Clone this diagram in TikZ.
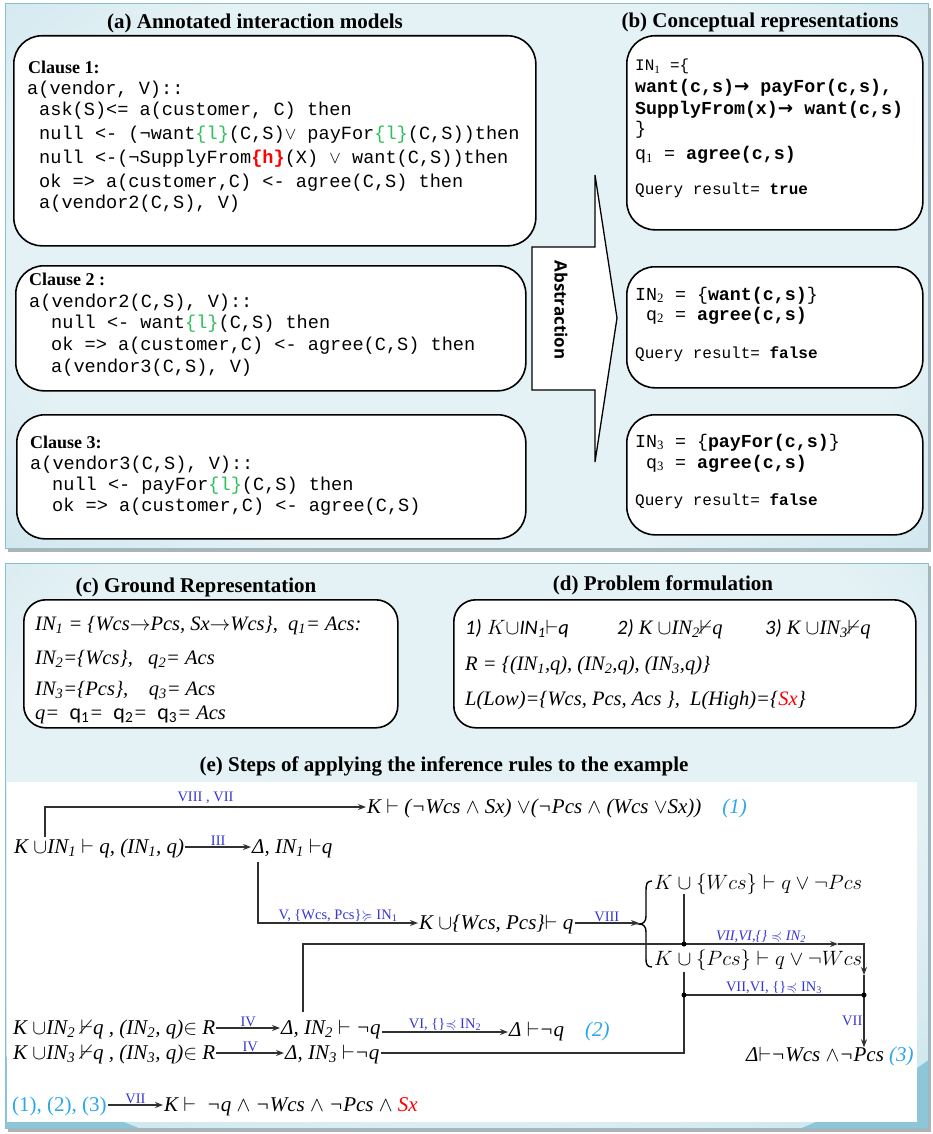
\documentclass[tikz,border=0pt]{standalone}
\usepackage{fontspec}
\usepackage{amssymb}
\setmainfont{Liberation Serif}
\setsansfont{Open Sans}
\setmonofont{Liberation Mono}
\newfontfamily\carl{Carlito}
\newfontfamily\djv{DejaVu Sans}
\usetikzlibrary{arrows.meta,calc}
\definecolor{grn}{HTML}{2EC05A}
\definecolor{cblue}{HTML}{2AA8E8}
\definecolor{lblue}{HTML}{3636D6}
\definecolor{pl}{HTML}{E4F1F5}
\definecolor{pb}{HTML}{8CC6D7}
\definecolor{pedge}{HTML}{86C0D2}
\definecolor{lnc}{HTML}{303030}
\pgfdeclareradialshading{panshade}{\pgfpoint{0bp}{0bp}}{color(0bp)=(pl); color(18bp)=(pl); color(50bp)=(pb)}
\newcommand{\gn}[1]{\textcolor{grn}{#1}}
\newcommand{\lsb}[1]{\textsubscript{#1}}
\newcommand{\msb}[1]{\textsubscript{\rmfamily\upshape #1}}
\newcommand{\spc}{\phantom{x}}
\tikzset{
  ttl/.style={font=\bfseries\fontsize{21}{24}\selectfont, inner sep=0pt},
  rbox/.style={draw=black, line width=1.6pt, fill=white, rounded corners=28pt, anchor=north west, inner sep=0pt},
  cl/.style={anchor=base west, inner sep=0pt, font=\bfseries\fontsize{18}{20}\selectfont},
  cd/.style={anchor=base west, inner sep=0pt, font=\ttfamily\fontsize{18.6}{20}\selectfont},
  bd/.style={anchor=base west, inner sep=0pt, font=\ttfamily\fontsize{18.3}{20}\selectfont},
  cq/.style={anchor=base west, inner sep=0pt, font=\ttfamily\fontsize{16}{20}\selectfont},
  fm/.style={anchor=base west, inner sep=0pt, font=\itshape\fontsize{20.5}{24}\selectfont},
  ef/.style={anchor=west, inner sep=1pt, text height=13pt, text depth=0pt, font=\itshape\fontsize{21}{24}\selectfont},
  lb/.style={text=lblue, inner sep=1pt, font=\fontsize{14.5}{16}\selectfont},
  lbi/.style={text=lblue, inner sep=1pt, font=\itshape\fontsize{14.5}{16}\selectfont},
  cn/.style={draw=lnc, line width=1.3pt},
  arr/.style={cn, -{Stealth[length=8pt,width=6pt]}},
  jd/.style={circle, fill=black, inner sep=0pt, minimum size=5pt},
}
\begin{document}
\begin{tikzpicture}[x=1pt,y=-1pt]
\useasboundingbox (0,0) rectangle (932,1134);
\fill[white] (0,0) rectangle (932,1134);
% ---------- top panel
\fill[black!30] (8,8) rectangle (931,552);
\fill[pb] (5,4) rectangle (928,548);
\begin{scope}
\clip (5,4) rectangle (928,548);
\shade[shading=panshade] (470,260) ellipse (640 and 420);
\end{scope}
\draw[pedge, line width=1pt] (5,4) rectangle (928,548);
% ---------- bottom panel
\fill[black!30] (8,566) rectangle (931,1132);
\fill[pb] (5,563) rectangle (928,1128);
\begin{scope}
\clip (5,563) rectangle (928,1128);
\shade[shading=panshade] (470,760) ellipse (640 and 430);
\end{scope}
\draw[pedge, line width=1pt] (5,563) rectangle (928,1128);
\fill[white] (7,782) rectangle (917,1122);

% ---------- titles
\node[ttl] (ta) at (255,23) {(a) Annotated interaction models};
\node[ttl] (tb) at (760,22) {(b) Conceptual representations};
\node[ttl] (tc) at (196,587) {(c) Ground Representation};
\node[ttl] (td) at (663,585) {(d) Problem formulation};
\node[ttl] (te) at (444,766) {(e) Steps of applying the inference rules to the example};

% ---------- clause boxes
\node[rbox, minimum width=522pt, minimum height=210pt] (cb1) at (13,35) {};
\node[rbox, minimum width=510pt, minimum height=125pt] (cb2) at (15,265) {};
\node[rbox, minimum width=509pt, minimum height=124pt] (cb3) at (16,414) {};

\node[cl] (c1t) at (28,74) {Clause 1:};
\node[cd] (c1a) at (27,95) {a(vendor, V)::};
\node[cd] (c1b) at (39,116) {ask(S)<= a(customer, C) then};
\node[cd] (c1c) at (39,140) {null <- (¬want\gn{\{l\}}(C,S)$\vee$ payFor\gn{\{l\}}(C,S))then};
\node[cd] (c1d) at (39,164) {null <-(¬SupplyFrom\textcolor{red}{\textbf{\{h\}}}(X) $\vee$ want(C,S))then};
\node[cd] (c1e) at (39,187) {ok => a(customer,C) <- agree(C,S) then};
\node[cd] (c1f) at (39,208) {a(vendor2(C,S), V)};

\node[cl] (c2t) at (29,285) {Clause 2 :};
\node[cd] (c2a) at (29,307) {a(vendor2(C,S), V)::};
\node[cd] (c2b) at (51,328) {null <- want\gn{\{l\}}(C,S) then};
\node[cd] (c2c) at (51,350) {ok => a(customer,C) <- agree(C,S) then};
\node[cd] (c2d) at (51,372) {a(vendor3(C,S), V)};

\node[cl] (c3t) at (30,448) {Clause 3:};
\node[cd] (c3a) at (30,469) {a(vendor3(C,S), V)::};
\node[cd] (c3b) at (52,490) {null <- payFor\gn{\{l\}}(C,S) then};
\node[cd] (c3c) at (52,511) {ok => a(customer,C) <- agree(C,S)};

% ---------- abstraction arrow
\draw[line width=1.3pt, fill=white] (532,247) -- (595,247) -- (595,175) -- (617,318) -- (595,462) -- (595,390) -- (532,390) -- cycle;
\node[rotate=-90, font=\sffamily\bfseries\fontsize{17}{20}\selectfont] (abs) at (561,310) {Abstraction};

% ---------- conceptual boxes
\node[rbox, minimum width=296pt, minimum height=194pt] (bb1) at (626,35) {};
\node[rbox, minimum width=296pt, minimum height=121pt] (bb2) at (626,266) {};
\node[rbox, minimum width=296pt, minimum height=120pt] (bb3) at (626,414) {};

\node[cq] (b1a) at (635,71) {IN\msb{1} =\{};
\node[bd] (b1b) at (635,93) {\textbf{want(c,s)}{\djv\bfseries →} \textbf{payFor(c,s),}};
\node[bd] (b1c) at (635,115) {\textbf{SupplyFrom(x)}{\djv\bfseries →} \textbf{want(c,s)}};
\node[bd] (b1d) at (635,135) {\}};
\node[bd] (b1e) at (635,160) {q\msb{1} = \textbf{agree(c,s)}};
\node[cq] (b1f) at (635,194) {Query result= \textbf{true}};

\node[bd] (b2a) at (635,300) {IN\msb{2} = \{\textbf{want(c,s)}\}};
\node[bd] (b2b) at (635,320) {\spc q\msb{2} = \textbf{agree(c,s)}};
\node[cq] (b2c) at (635,358) {Query result= \textbf{false}};

\node[bd] (b3a) at (635,447) {IN\msb{3} = \{\textbf{payFor(c,s)}\}};
\node[bd] (b3b) at (635,468) {\spc q\msb{3} = \textbf{agree(c,s)}};
\node[cq] (b3c) at (635,505) {Query result= \textbf{false}};

% ---------- (c) ground representation
\node[rbox, rounded corners=22pt, minimum width=374pt, minimum height=128pt] (gb) at (23,599) {};
\node[fm] (g1) at (35,630) {IN\lsb{1} = \{Wcs$\rightarrow$Pcs, Sx$\rightarrow$Wcs\},\ \ q\lsb{1}= Acs:};
\node[fm] (g2) at (35,664) {IN\lsb{2}=\{Wcs\},\ \ \ q\lsb{2}= Acs};
\node[fm] (g3) at (35,695) {IN\lsb{3}=\{Pcs\},\ \ \ \ q\lsb{3}= Acs};
\node[fm] (g4) at (35,719) {q=\ \ {\carl\upshape\fontsize{22}{24}\selectfont q\lsb{1}}=\ \ {\carl\upshape\fontsize{22}{24}\selectfont q\lsb{2}}=\ \ {\carl\upshape\fontsize{22}{24}\selectfont q\lsb{3}}= Acs};

% ---------- (d) problem formulation
\node[rbox, rounded corners=22pt, minimum width=462pt, minimum height=128pt] (db) at (453,599) {};
\node[fm] (d1a) at (465,634) {{\carl 1)} $K{\cup}${\carl IN\lsb{1}}$\vdash${\carl q}};
\node[fm] (d1b) at (617,634) {{\carl 2)} K $\cup$IN\lsb{2}$\nvdash$q};
\node[fm] (d1c) at (765,634) {{\carl 3)} K $\cup$IN\lsb{3}$\nvdash$q};
\node[fm] (d2) at (465,670) {R = \{(IN\lsb{1},q), (IN\lsb{2},q), (IN\lsb{3},q)\}};
\node[fm] (d3) at (465,705) {L(Low)=\{Wcs, Pcs, Acs \},\ \ L(High)=\{\textcolor{red}{Sx}\}};

% ---------- (e) inference steps
\node[ef] (e1) at (13,847) {K $\cup$IN\lsb{1} $\vdash$ q, (IN\lsb{1}, q)};
\node[ef] (e2) at (251,847) {Δ, IN\lsb{1} $\vdash$q};
\draw[arr] (e1.east) -- (e2.west) node[midway, above, lb] (l1) {III};

\node[ef] (e3) at (366,807) {K $\vdash$ (¬Wcs $\wedge$ Sx) $\vee$(¬Pcs $\wedge$ (Wcs $\vee$Sx))\quad\textcolor{cblue}{(1)}};
\coordinate (s1) at (45,837);
\draw[arr] (s1) |- (e3.west) node[pos=0.75, above=2pt, lb] (l2) {VIII , VII};

\coordinate (s2) at (258,862);
\node[ef] (e4) at (418,923) {K $\cup$\{Wcs, Pcs\}$\vdash$ q};
\draw[arr] (s2) |- (e4.west) node[pos=0.75, above, lb] (l3) {V, \{Wcs, Pcs\}$\succcurlyeq$ IN\textsubscript{1}};

% brace
\coordinate (bt) at (639,924);
\draw[line width=1.4pt, draw=black] (652,881) .. controls (647,881) and (646,884) .. (646,890) -- (646,916) .. controls (646,921) and (644,924) .. (bt) .. controls (644,924) and (646,927) .. (646,932) -- (646,959) .. controls (646,964) and (647,967) .. (652,967);
\draw[arr] (e4.east) -- (e4.east -| bt) node[midway, above, lb] (l4) {VIII};

\node[ef, font=\fontsize{19.5}{24}\selectfont] (e5) at (653,883) {$K \cup \{Wcs\} \vdash q \vee \neg Pcs$};
\node[ef, font=\fontsize{19.5}{24}\selectfont] (e6) at (653,959) {$K \cup \{Pcs\} \vdash q \vee \neg Wcs$};

\node[ef] (e7) at (12,1028) {K $\cup$IN\lsb{2} $\nvdash$q , (IN\lsb{2}, q)$\in$ R};
\node[ef] (e8) at (280,1028) {Δ, IN\lsb{2} $\vdash$ ¬q};
\draw[arr] (e7.east) -- (e8.west) node[midway, above, lb] (l5) {IV};
\node[ef] (e9) at (508,1030) {Δ $\vdash$¬q\quad\textcolor{cblue}{(2)}};
\draw[arr] ([yshift=-4pt]e8.east) -- ([yshift=-4pt]e8.east -| e9.west) node[midway, above, lb] (l6) {VI, \{\}$\preccurlyeq$ IN\textsubscript{2}};

\node[ef] (e10) at (12,1053) {K $\cup$IN\lsb{3} $\nvdash$q , (IN\lsb{3}, q)$\in$ R};
\node[ef] (e11) at (284,1053) {Δ, IN\lsb{3} $\vdash$¬q};
\draw[arr] (e10.east) -- (e11.west) node[midway, above, lb] (l7) {IV};

\node[ef] (e12) at (745,1055) {Δ$\vdash$¬Wcs $\wedge$¬Pcs \textcolor{cblue}{(3)}};

\coordinate (u1) at (684,894);
\coordinate (j1) at (684,944);
\coordinate (u2) at (684,972);
\coordinate (j2) at (684,995);
\coordinate (j3) at (864,995);
\coordinate (a1) at (838,944);
\coordinate (a2) at (864,975);
\coordinate (s3) at (303,1012);

\draw[cn] (s3) |- (j1);
\draw[cn] (u1) -- (j1);
\draw[arr] (j1) -- (a1) node[midway, above, lbi] (l8) {VII,VI,\{\} $\preccurlyeq$ IN\textsubscript{2}};
\draw[arr] (a1) -| (a2);
\draw[cn] (u2) |- (e11.east);
\draw[cn] (j2) -- (j3) node[midway, above, lb] (l9) {VII,VI, \{\}$\preccurlyeq$ IN\textsubscript{3}};
\draw[cn] (a2) -- (j3);
\draw[arr] (j3) -- (j3 |- e12.north) node[midway, left, lb] (l10) {VII};
\node[jd] (dt1) at (j1) {};
\node[jd] (dt2) at (j2) {};
\node[jd] (dt3) at (j3) {};

\node[ef] (e13) at (11,1105) {\upshape\textcolor{cblue}{(1), (2), (3)}};
\node[ef] (e14) at (163,1105) {K $\vdash$\ \ ¬q $\wedge$ ¬Wcs $\wedge$ ¬Pcs $\wedge$ \textcolor{red}{Sx}};
\draw[arr] (e13.east) -- (e14.west) node[midway, above, lb] (l11) {VII};
\end{tikzpicture}
\end{document}
